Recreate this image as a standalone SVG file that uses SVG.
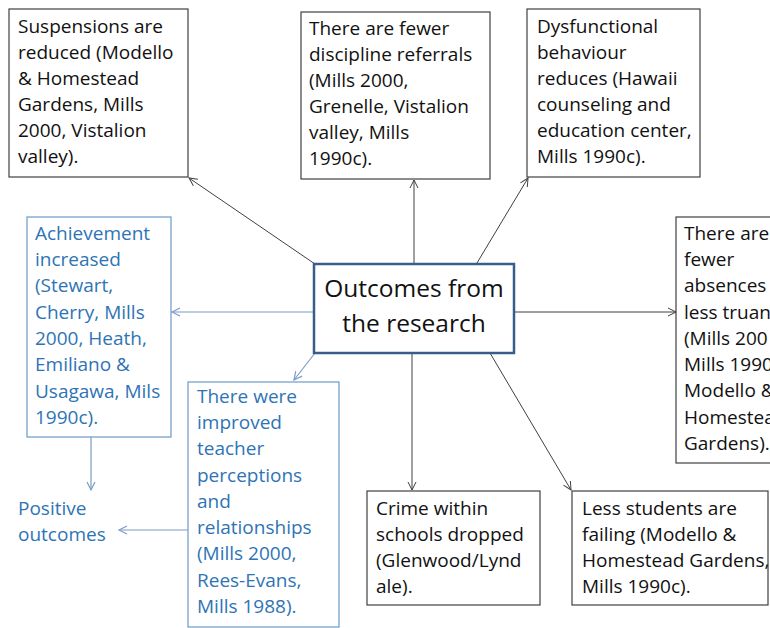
<svg xmlns="http://www.w3.org/2000/svg" width="770" height="628" viewBox="0 0 770 628">
<style>
.box{fill:#fff;stroke:#404040;stroke-width:1.2}
.bbox{fill:#fff;stroke:#6a9ac9;stroke-width:1.2}
.cbox{fill:#fff;stroke:#385d8a;stroke-width:2.5}
.t{font-family:"Open Sans","Noto Sans",sans-serif;font-size:19px;fill:#111}
.bt{font-family:"Open Sans","Noto Sans",sans-serif;font-size:19px;fill:#2e74b5}
.ct{font-family:"Open Sans","Noto Sans",sans-serif;font-size:24.5px;fill:#111;text-anchor:middle}
.k{stroke:#404040;stroke-width:1;fill:none;marker-end:url(#ak)}
.b{stroke:#7d9cc4;stroke-width:1.2;fill:none;marker-end:url(#ab)}
</style>
<defs>
<marker id="ak" markerUnits="userSpaceOnUse" markerWidth="12" markerHeight="12" refX="9" refY="5" orient="auto"><path d="M1,1 L9,5 L1,9" fill="none" stroke="#404040" stroke-width="1"/></marker>
<marker id="ab" markerUnits="userSpaceOnUse" markerWidth="12" markerHeight="12" refX="9" refY="5" orient="auto"><path d="M1,1 L9,5 L1,9" fill="none" stroke="#7d9cc4" stroke-width="1.2"/></marker>
</defs>
<rect width="770" height="628" fill="#fff"/>
<g id="connectors">
<line class="k" x1="315" y1="264" x2="189" y2="178"/>
<line class="k" x1="414" y1="264" x2="414" y2="180"/>
<line class="k" x1="477" y1="263" x2="528" y2="178"/>
<line class="k" x1="514" y1="312" x2="676" y2="312"/>
<line class="k" x1="412" y1="353" x2="412" y2="490"/>
<line class="k" x1="490" y1="353" x2="571" y2="490"/>
<line class="b" x1="314" y1="312" x2="172" y2="312"/>
<line class="b" x1="315" y1="353" x2="294" y2="380"/>
<line class="b" x1="91" y1="437" x2="91" y2="490"/>
<line class="b" x1="188" y1="530" x2="119" y2="530"/>
</g>
<g id="suspensions">
<rect class="box" x="9" y="9" width="179" height="168"/>
<text class="t" x="18"><tspan x="18" y="33">Suspensions are</tspan><tspan x="18" y="59">reduced (Modello</tspan><tspan x="18" y="85">&amp; Homestead</tspan><tspan x="18" y="111">Gardens, Mills</tspan><tspan x="18" y="137">2000, Vistalion</tspan><tspan x="18" y="163">valley).</tspan></text>
</g>
<g id="referrals">
<rect class="box" x="301" y="12" width="189" height="167"/>
<text class="t"><tspan x="309" y="35">There are fewer</tspan><tspan x="309" y="61">discipline referrals</tspan><tspan x="309" y="87">(Mills 2000,</tspan><tspan x="309" y="113">Grenelle, Vistalion</tspan><tspan x="309" y="139">valley, Mills</tspan><tspan x="309" y="165">1990c).</tspan></text>
</g>
<g id="dysfunctional">
<rect class="box" x="527" y="9" width="173" height="168"/>
<text class="t"><tspan x="537" y="33">Dysfunctional</tspan><tspan x="537" y="59">behaviour</tspan><tspan x="537" y="85">reduces (Hawaii</tspan><tspan x="537" y="111">counseling and</tspan><tspan x="537" y="137">education center,</tspan><tspan x="537" y="163">Mills 1990c).</tspan></text>
</g>
<g id="center">
<rect class="cbox" x="314" y="264" width="200" height="89"/>
<text class="ct"><tspan x="414" y="297">Outcomes from</tspan><tspan x="414" y="332">the research</tspan></text>
</g>
<g id="achievement">
<rect class="bbox" x="27" y="217" width="144" height="220"/>
<text class="bt"><tspan x="35" y="240">Achievement</tspan><tspan x="35" y="266">increased</tspan><tspan x="35" y="292">(Stewart,</tspan><tspan x="35" y="319">Cherry, Mills</tspan><tspan x="35" y="345">2000, Heath,</tspan><tspan x="35" y="371">Emiliano &amp;</tspan><tspan x="35" y="398">Usagawa, Mils</tspan><tspan x="35" y="424">1990c).</tspan></text>
</g>
<g id="absences">
<rect class="box" x="676" y="217" width="120" height="246"/>
<text class="t"><tspan x="684" y="240">There are</tspan><tspan x="684" y="266">fewer</tspan><tspan x="684" y="292">absences</tspan><tspan x="684" y="319">less truan</tspan><tspan x="684" y="345">(Mills 200</tspan><tspan x="684" y="371">Mills 1990</tspan><tspan x="684" y="397">Modello &amp;</tspan><tspan x="684" y="424">Homestea</tspan><tspan x="684" y="450">Gardens).</tspan></text>
</g>
<g id="teacher">
<rect class="bbox" x="188" y="382" width="151" height="245"/>
<text class="bt"><tspan x="197" y="403">There were</tspan><tspan x="197" y="429">improved</tspan><tspan x="197" y="455">teacher</tspan><tspan x="197" y="482">perceptions</tspan><tspan x="197" y="508">and</tspan><tspan x="197" y="534">relationships</tspan><tspan x="197" y="560">(Mills 2000,</tspan><tspan x="197" y="587">Rees-Evans,</tspan><tspan x="197" y="613">Mills 1988).</tspan></text>
</g>
<g id="positive">
<text class="bt"><tspan x="18" y="515">Positive</tspan><tspan x="18" y="541">outcomes</tspan></text>
</g>
<g id="crime">
<rect class="box" x="367" y="491" width="173" height="114"/>
<text class="t"><tspan x="376" y="515">Crime within</tspan><tspan x="376" y="541">schools dropped</tspan><tspan x="376" y="567">(Glenwood/Lynd</tspan><tspan x="376" y="593">ale).</tspan></text>
</g>
<g id="failing">
<rect class="box" x="572" y="491" width="196" height="114"/>
<text class="t"><tspan x="582" y="515">Less students are</tspan><tspan x="582" y="541">failing (Modello &amp;</tspan><tspan x="582" y="567">Homestead Gardens,</tspan><tspan x="582" y="593">Mills 1990c).</tspan></text>
</g>
</svg>
